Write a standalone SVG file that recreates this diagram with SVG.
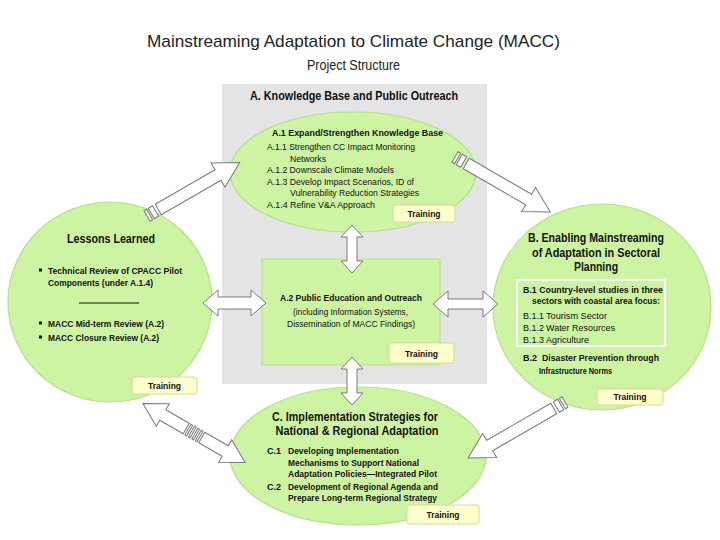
<svg xmlns="http://www.w3.org/2000/svg" width="720" height="540" viewBox="0 0 720 540">
<defs>
<style>
text{font-family:"Liberation Sans",Arial,sans-serif;fill:#111}
.t{font-size:17px;text-anchor:middle;fill:#222}
.st{font-size:14px;text-anchor:middle;fill:#222}
.h{font-size:12.5px;font-weight:bold;text-anchor:middle}
.b{font-size:9px;font-weight:bold}
.r{font-size:9px}
.c{text-anchor:middle}
.ell{fill:#cdf4a2;stroke:#b6df8c;stroke-width:1.2}
.tr{fill:#ffffcc;stroke:#d8d8a0;stroke-width:1}
.trt{font-size:9.5px;font-weight:bold;text-anchor:middle}
.ar{fill:#fff;stroke:#7a7a7a;stroke-width:1;stroke-linejoin:miter}
</style>
</defs>
<rect width="720" height="540" fill="#fff"/>
<text class="t" x="353.5" y="47" textLength="413" lengthAdjust="spacingAndGlyphs">Mainstreaming Adaptation to Climate Change (MACC)</text>
<text class="st" x="353.5" y="70" textLength="93" lengthAdjust="spacingAndGlyphs">Project Structure</text>

<g id="groupA">
<rect x="222" y="84" width="265" height="300" fill="#e4e4e4"/>
<text x="354" y="100" style="font-size:12px;font-weight:bold;text-anchor:middle" textLength="208" lengthAdjust="spacingAndGlyphs">A. Knowledge Base and Public Outreach</text>
</g>

<g id="nodeA1">
<ellipse class="ell" cx="353" cy="172" rx="123" ry="60"/>
<text class="b" x="272" y="136" textLength="171" lengthAdjust="spacingAndGlyphs">A.1 Expand/Strengthen Knowledge Base</text>
<text class="r" x="267" y="150" textLength="148" lengthAdjust="spacingAndGlyphs">A.1.1 Strengthen CC Impact Monitoring</text>
<text class="r" x="290" y="161.5" textLength="36" lengthAdjust="spacingAndGlyphs">Networks</text>
<text class="r" x="267" y="173" textLength="127" lengthAdjust="spacingAndGlyphs">A.1.2 Downscale Climate Models</text>
<text class="r" x="267" y="184.5" textLength="147" lengthAdjust="spacingAndGlyphs">A.1.3 Develop Impact Scenarios, ID of</text>
<text class="r" x="290" y="196" textLength="129" lengthAdjust="spacingAndGlyphs">Vulnerability Reduction Strategies</text>
<text class="r" x="267" y="208" textLength="108" lengthAdjust="spacingAndGlyphs">A.1.4 Refine V&amp;A Approach</text>
<rect class="tr" x="393" y="205" width="62" height="17" rx="3"/>
<text class="trt" x="424" y="216.5" textLength="33" lengthAdjust="spacingAndGlyphs">Training</text>
</g>

<g id="nodeA2">
<rect x="262" y="259" width="178" height="106" fill="#cdf4a2" stroke="#b6df8c" stroke-width="1"/>
<text class="b c" x="351" y="301" style="font-size:9.5px" textLength="142" lengthAdjust="spacingAndGlyphs">A.2 Public Education and Outreach</text>
<text class="r c" x="350.5" y="315" textLength="115" lengthAdjust="spacingAndGlyphs">(including Information Systems,</text>
<text class="r c" x="351" y="327" textLength="128" lengthAdjust="spacingAndGlyphs">Dissemination of MACC Findings)</text>
<rect class="tr" x="389" y="343" width="65" height="20" rx="3"/>
<text class="trt" x="421.5" y="356.5" textLength="33" lengthAdjust="spacingAndGlyphs">Training</text>
</g>

<g id="nodeLessons">
<ellipse class="ell" cx="110" cy="302" rx="102" ry="100"/>
<text x="111" y="243" style="font-size:12px;font-weight:bold;text-anchor:middle" textLength="88" lengthAdjust="spacingAndGlyphs">Lessons Learned</text>
<rect x="39" y="268.5" width="3" height="3" fill="#111"/>
<text class="b" x="48" y="274" textLength="134" lengthAdjust="spacingAndGlyphs">Technical Review of CPACC Pilot</text>
<text class="b" x="48" y="286" textLength="105" lengthAdjust="spacingAndGlyphs">Components (under A.1.4)</text>
<line x1="79" y1="303" x2="139" y2="303" stroke="#111" stroke-width="1"/>
<rect x="39" y="321.5" width="3" height="3" fill="#111"/>
<text class="b" x="48" y="327" textLength="116" lengthAdjust="spacingAndGlyphs">MACC Mid-term Review (A.2)</text>
<rect x="39" y="335.5" width="3" height="3" fill="#111"/>
<text class="b" x="48" y="341" textLength="111" lengthAdjust="spacingAndGlyphs">MACC Closure Review (A.2)</text>
<rect class="tr" x="132" y="377" width="65" height="17" rx="3"/>
<text class="trt" x="164.5" y="388.5" textLength="33" lengthAdjust="spacingAndGlyphs">Training</text>
</g>

<g id="nodeB">
<ellipse class="ell" cx="602" cy="307" rx="109" ry="103"/>
<text class="h" x="596" y="242" textLength="136" lengthAdjust="spacingAndGlyphs">B. Enabling Mainstreaming</text>
<text class="h" x="596" y="257" textLength="128" lengthAdjust="spacingAndGlyphs">of Adaptation in Sectoral</text>
<text class="h" x="596" y="271" textLength="44" lengthAdjust="spacingAndGlyphs">Planning</text>
<rect x="517" y="280" width="148" height="66" fill="none" stroke="#fff" stroke-width="2"/>
<text class="b" x="523" y="293" textLength="140" lengthAdjust="spacingAndGlyphs">B.1 Country-level studies in three</text>
<text class="b" x="532" y="304" textLength="128" lengthAdjust="spacingAndGlyphs">sectors with coastal area focus:</text>
<text class="r" x="523" y="319">B.1.1</text>
<text class="r" x="546" y="319" textLength="61" lengthAdjust="spacingAndGlyphs">Tourism Sector</text>
<text class="r" x="523" y="331">B.1.2</text>
<text class="r" x="546" y="331" textLength="69" lengthAdjust="spacingAndGlyphs">Water Resources</text>
<text class="r" x="523" y="342.5">B.1.3</text>
<text class="r" x="546" y="342.5" textLength="43" lengthAdjust="spacingAndGlyphs">Agriculture</text>
<text class="b" x="523" y="361">B.2</text>
<text class="b" x="542" y="361" textLength="117" lengthAdjust="spacingAndGlyphs">Disaster Prevention through</text>
<text class="b" x="539" y="374" textLength="73" lengthAdjust="spacingAndGlyphs">Infrastructure Norms</text>
<rect class="tr" x="597" y="389" width="66" height="16" rx="3"/>
<text class="trt" x="630" y="400" textLength="33" lengthAdjust="spacingAndGlyphs">Training</text>
</g>

<g id="nodeC">
<ellipse class="ell" cx="358" cy="456" rx="128" ry="69"/>
<text class="h" x="355" y="421" textLength="166" lengthAdjust="spacingAndGlyphs">C. Implementation Strategies for</text>
<text class="h" x="357" y="435" textLength="163" lengthAdjust="spacingAndGlyphs">National &amp; Regional Adaptation</text>
<text class="b" x="267" y="454">C.1</text>
<text class="b" x="288" y="454" textLength="111" lengthAdjust="spacingAndGlyphs">Developing Implementation</text>
<text class="b" x="288" y="465.5" textLength="131" lengthAdjust="spacingAndGlyphs">Mechanisms to Support National</text>
<text class="b" x="288" y="477" textLength="149" lengthAdjust="spacingAndGlyphs">Adaptation Policies—Integrated Pilot</text>
<text class="b" x="267" y="490">C.2</text>
<text class="b" x="288" y="490" textLength="150" lengthAdjust="spacingAndGlyphs">Development of Regional Agenda and</text>
<text class="b" x="288" y="501" textLength="149" lengthAdjust="spacingAndGlyphs">Prepare Long-term Regional Strategy</text>
<rect class="tr" x="407" y="505" width="72" height="19" rx="3"/>
<text class="trt" x="443" y="518" textLength="33" lengthAdjust="spacingAndGlyphs">Training</text>
</g>

<g id="connectors">
<g transform="translate(147,216) rotate(-30)">
<rect class="ar" x="0" y="-6" width="3" height="12"/>
<rect class="ar" x="5" y="-6" width="5" height="12"/>
<path class="ar" d="M13,-6 H82 V-14 L107,0 L82,14 V6 H13 Z"/>
</g>
<g transform="translate(455,157) rotate(30)">
<rect class="ar" x="0" y="-6" width="3" height="12"/>
<rect class="ar" x="5" y="-6" width="5" height="12"/>
<path class="ar" d="M13,-6 H85 V-14 L110,0 L85,14 V6 H13 Z"/>
</g>
<g transform="translate(565,402) rotate(150)">
<rect class="ar" x="0" y="-6" width="3" height="12"/>
<rect class="ar" x="5" y="-6" width="5" height="12"/>
<path class="ar" d="M13,-6 H87 V-14 L112,0 L87,14 V6 H13 Z"/>
</g>
<g transform="translate(194,433) rotate(30)">
<path class="ar" d="M-59,0 L-36,-13 V-6 H-9 V6 H-36 V13 Z"/>
<rect class="ar" x="-7" y="-6" width="2" height="12"/>
<rect class="ar" x="-3" y="-6" width="2" height="12"/>
<rect class="ar" x="1" y="-6" width="2" height="12"/>
<rect class="ar" x="5" y="-6" width="2" height="12"/>
<path class="ar" d="M9,-6 H36 V-13 L59,0 L36,13 V6 H9 Z"/>
</g>
<path class="ar" d="M203,303 L218,290 V297 H251 V290 L266,303 L251,316 V309 H218 V316 Z"/>
<path class="ar" d="M433,304 L448,291 V299 H483 V291 L498,304 L483,317 V309 H448 V317 Z"/>
<path class="ar" d="M352,225 L363,237 H357 V261 H363 L352,273 L341,261 H347 V237 H341 Z"/>
<path class="ar" d="M352,357 L363,369 H357 V393 H363 L352,405 L341,393 H347 V369 H341 Z"/>
</g>
</svg>
